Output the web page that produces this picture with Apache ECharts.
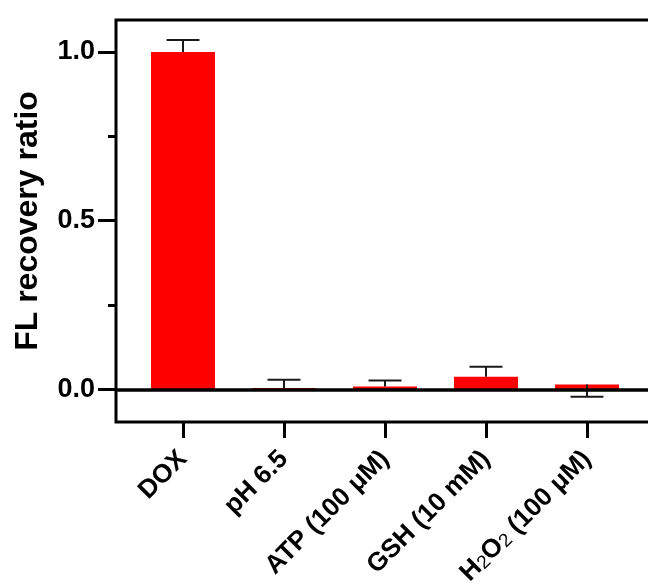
<!DOCTYPE html>
<html><head><meta charset="utf-8">
<script src="https://cdn.jsdelivr.net/npm/echarts@6/dist/echarts.min.js"></script>
<style>html,body{margin:0;padding:0;background:#fff}#c{width:648px;height:586px}</style>
</head><body><div id="c"></div>
<script>
const categories = ['DOX', 'pH 6.5', 'ATP (100 μM)', 'GSH (10 mM)', 'H2O2 (100 μM)'];
const means = [1.0, 0.002, 0.008, 0.037, 0.014];
const errorEnds = [1.036, 0.028, 0.026, 0.067, -0.022];
const yMajorTicks = [0, 0.5, 1.0];
const yMinorTicks = [0.25, 0.75];
const yMin = -0.097, yMax = 1.095;
const FONT = 'Liberation Sans, Arial, Helvetica, sans-serif';

const chart = echarts.init(document.getElementById('c'), null, {renderer: 'canvas'});
chart.setOption({
  animation: false,
  backgroundColor: '#fff',
  textStyle: {fontFamily: FONT},
  grid: [
    {left: 132.5, top: 20, width: 505, height: 402, outerBoundsMode: 'none', containLabel: false},
    {left: 116, top: 20, width: 560, height: 402, outerBoundsMode: 'none', containLabel: false, show: true, borderColor: '#000', borderWidth: 3, backgroundColor: 'transparent'}
  ],
  xAxis: [
    {
      gridIndex: 0, type: 'category', data: categories,
      axisLine: {show: true, onZero: false, lineStyle: {color: 'transparent', width: 0}},
      axisTick: {show: true, alignWithLabel: true, length: 16, lineStyle: {color: '#000', width: 3}},
      axisLabel: {
        interval: 0, rotate: 45, margin: 33, color: '#000', fontSize: 26, fontWeight: 'bold', fontFamily: FONT,
        formatter: v => v.replace('H2O2', 'H{s|2}O{s|2}'),
        rich: {s: {fontSize: 19, fontWeight: 'normal', fontFamily: FONT, color: '#000', verticalAlign: 'bottom'}}
      },
      splitLine: {show: false}
    },
    {
      gridIndex: 1, type: 'value', min: 0, max: 1, z: 5,
      axisLine: {show: true, onZero: true, onZeroAxisIndex: 1, lineStyle: {color: '#000', width: 3.5}},
      axisTick: {show: false}, axisLabel: {show: false}, splitLine: {show: false}
    }
  ],
  yAxis: [
    {gridIndex: 0, type: 'value', min: yMin, max: yMax, show: false},
    {
      gridIndex: 1, type: 'value', min: yMin, max: yMax, position: 'left',
      axisLine: {show: false},
      axisTick: {show: true, customValues: yMajorTicks, length: 18, lineStyle: {color: '#000', width: 3}},
      axisLabel: {customValues: yMajorTicks, formatter: v => v.toFixed(1), margin: 21, color: '#000', fontSize: 27, fontWeight: 'bold', fontFamily: FONT},
      splitLine: {show: false},
      name: 'FL recovery ratio', nameLocation: 'middle', nameGap: 72,
      nameTextStyle: {color: '#000', fontSize: 32, fontWeight: 'bold', fontFamily: FONT}
    },
    {
      gridIndex: 1, type: 'value', min: yMin, max: yMax, position: 'left',
      axisLine: {show: false},
      axisTick: {show: true, customValues: yMinorTicks, length: 8, lineStyle: {color: '#000', width: 3}},
      axisLabel: {show: false}, splitLine: {show: false}
    }
  ],
  series: [
    {
      type: 'bar', xAxisIndex: 0, yAxisIndex: 0, data: means, barWidth: 64,
      itemStyle: {color: '#FF0000', borderColor: '#FF0000', borderWidth: 2}
    },
    {
      type: 'custom', xAxisIndex: 0, yAxisIndex: 0, z: 3,
      data: categories.map((c, i) => [i, means[i], errorEnds[i]]),
      renderItem: function (params, api) {
        const x = api.value(0);
        const p0 = api.coord([x, api.value(1)]);
        const p1 = api.coord([x, api.value(2)]);
        const half = api.size([1, 0])[0] * 0.163;
        const st = {stroke: '#1a1a1a', lineWidth: 2};
        return {type: 'group', children: [
          {type: 'line', shape: {x1: p0[0], y1: p0[1], x2: p1[0], y2: p1[1]}, style: st},
          {type: 'line', shape: {x1: p1[0] - half, y1: p1[1], x2: p1[0] + half, y2: p1[1]}, style: st}
        ]};
      }
    }
  ]
});
</script></body></html>
